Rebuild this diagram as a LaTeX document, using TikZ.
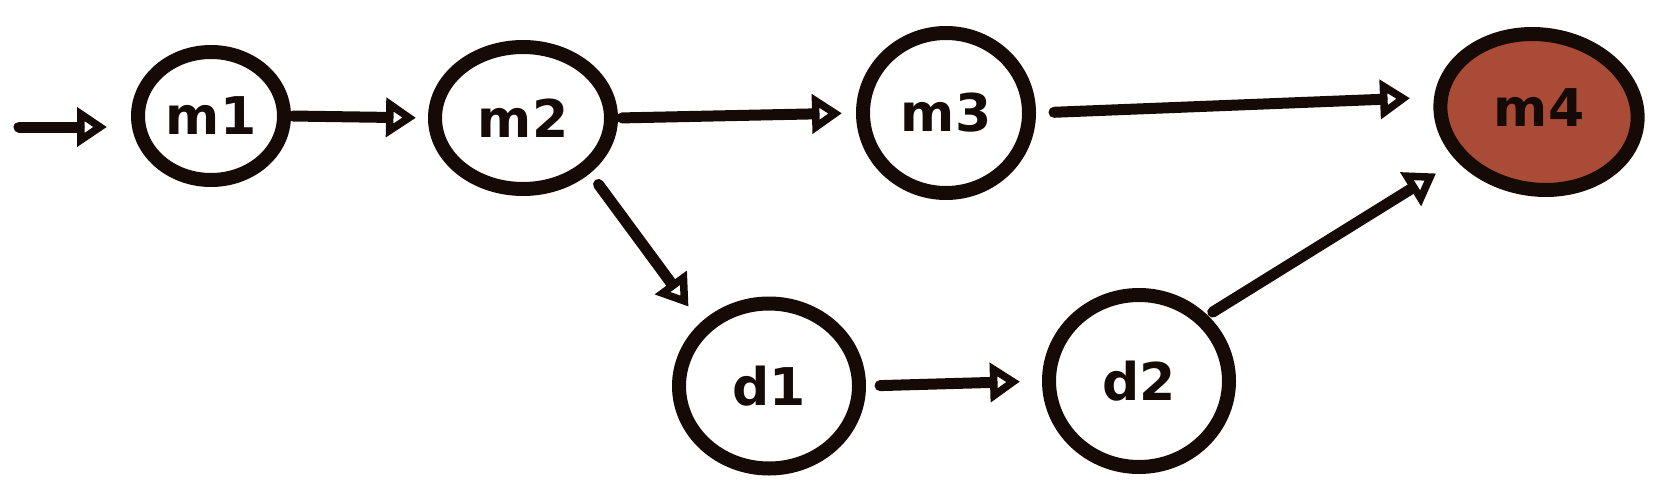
\documentclass[tikz,border=0pt]{standalone}
\usepackage{fontspec}
\setmainfont{DejaVu Sans}
\usetikzlibrary{shapes.geometric,arrows.meta}
\definecolor{ink}{HTML}{150A06}
\definecolor{redfill}{HTML}{A94B36}
\tikzset{
  commit/.style={ellipse, draw=ink, line width=14pt, inner sep=0pt,
    font=\fontsize{52}{54}\selectfont\bfseries, text=ink},
  label/.style={font=\fontsize{52}{54}\selectfont\bfseries, text=ink, inner sep=0pt},
  link/.style={draw=ink, line width=11pt, line cap=round,
    -{Triangle[open, length=30pt, width=38pt, line width=9pt]}},
}
\begin{document}
\begin{tikzpicture}[x=1pt,y=-1pt]
\useasboundingbox (0,0) rectangle (1657,487);
\node[commit, minimum width=146pt, minimum height=128pt] (m1) at (211,116) {m1};
\node[commit, minimum width=176pt, minimum height=142pt] (m2) at (523,118) {m2};
\node[commit, minimum width=166pt, minimum height=160pt] (m3) at (946,113) {m3};
\node[commit, fill=redfill, minimum width=198pt, minimum height=155pt, rotate=-8] (m4) at (1539,112) {};
\node[label] (m4t) at (1539,108) {m4};
\node[commit, minimum width=180pt, minimum height=165pt] (d1) at (769,386) {d1};
\node[commit, minimum width=180pt, minimum height=172pt] (d2) at (1139,381) {d2};
\coordinate (start) at (19,127);
\draw[link, shorten >=24pt] (start) -- (start -| m1.west);
\draw[link, shorten <=2pt, shorten >=12pt] (m1.east) -- (m2.west);
\draw[link, shorten <=4pt, shorten >=14pt] (m2.east) -- (m3.west);
\draw[link, shorten <=18pt, shorten >=24pt] (m3.east) -- (m4.west);
\draw[link, shorten <=14pt, shorten >=20pt] (m2.south east) -- (d1.north west);
\draw[link, shorten <=14pt, shorten >=22pt] (d1.east) -- (d2.west);
\draw[link, shorten <=6pt, shorten >=24pt] (d2.north east) -- (m4.south west);
\end{tikzpicture}
\end{document}
